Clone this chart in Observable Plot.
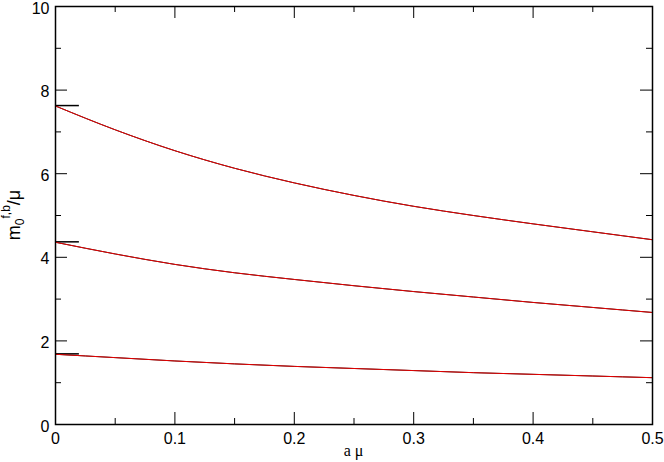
<!DOCTYPE html>
<html><head><meta charset="utf-8">
<script src="https://cdn.jsdelivr.net/npm/d3@7"></script>
<script src="https://cdn.jsdelivr.net/npm/@observablehq/plot@0.6"></script>
<style>
html,body{margin:0;padding:0;background:#fff}
#wrap{position:relative;width:664px;height:462px}
#wrap svg{display:block}
.lbl{position:absolute;white-space:nowrap;color:#000;line-height:1}
#ylab{left:25px;top:215px;font:18px 'Liberation Sans',Arial,sans-serif;transform-origin:0 0;transform:rotate(-90deg) translate(-50%,-100%)}
#ylab .sub{font-size:12px;position:relative;top:4px}
#ylab .sup{font-size:12px;position:relative;top:-10px}
#xlab{left:353.5px;top:442px;font:16px 'Liberation Serif','Times New Roman',serif;transform:translate(-50%,0)}
</style>
</head><body>
<div id="wrap">
  <div id="chart"></div>
  <div id="ylab" class="lbl">m<span class="sub">0</span><span class="sup">f,b</span>/μ</div>
  <div id="xlab" class="lbl">a μ</div>
</div>
<script>
// data
const aMu = [0, 0.05, 0.10, 0.15, 0.20, 0.25, 0.30, 0.35, 0.40, 0.45, 0.50];
const level1 = [1.68, 1.60, 1.52, 1.45, 1.39, 1.34, 1.29, 1.24, 1.20, 1.16, 1.12];
const level2 = [4.36, 4.08, 3.83, 3.63, 3.47, 3.32, 3.18, 3.05, 2.92, 2.80, 2.68];
const level3 = [7.62, 7.05, 6.55, 6.13, 5.78, 5.48, 5.22, 5.00, 4.80, 4.61, 4.42];
const limitValues = [1.69, 4.37, 7.63];
const limitFrom = [0, 0, 0];
const limitTo = [0.02, 0.02, 0.02];
const xMajorTicks = [0, 0.1, 0.2, 0.3, 0.4, 0.5];
const xMinorTicks = [0.05, 0.15, 0.25, 0.35, 0.45];
const yMajorTicks = [0, 2, 4, 6, 8, 10];
const yMinorTicks = [1, 3, 5, 7, 9];

const levels = [level1, level2, level3];
const rows = levels.flatMap((vals, k) => vals.map((v, i) => ({a: aMu[i], m: v, level: k})));
const limits = limitValues.map((v, i) => ({v, x1: limitFrom[i], x2: limitTo[i]}));

const W = 664, H = 462, ML = 55, MR = 12, MT = 6, MB = 38;
const plotW = W - ML - MR, plotH = H - MT - MB;
const MAJOR = 12, MINOR = 6;

// inward ticks on all four sides, drawn as short rules inset from the frame
const xTicks = (ticks, len) => [
  Plot.ruleX(ticks, {x: d => d, insetTop: plotH - len, stroke: "black", strokeWidth: 1, ariaLabel: "x mark bottom"}),
  Plot.ruleX(ticks, {x: d => d, insetBottom: plotH - len, stroke: "black", strokeWidth: 1, ariaLabel: "x mark top"})
];
const yTicks = (ticks, len) => [
  Plot.ruleY(ticks, {y: d => d, insetRight: plotW - len, stroke: "black", strokeWidth: 1, ariaLabel: "y mark left"}),
  Plot.ruleY(ticks, {y: d => d, insetLeft: plotW - len, stroke: "black", strokeWidth: 1, ariaLabel: "y mark right"})
];

const chart = Plot.plot({
  width: W, height: H,
  marginLeft: ML, marginRight: MR, marginTop: MT, marginBottom: MB,
  x: {domain: [0, 0.5]},
  y: {domain: [0, 10]},
  style: {fontFamily: "'Liberation Sans', Arial, sans-serif", fontSize: "16px", background: "white", color: "black"},
  marks: [
    Plot.axisX(xMajorTicks, {anchor: "bottom", tickSize: 0, tickPadding: 8, fontSize: 16, label: null, tickFormat: d => String(d)}),
    Plot.axisY(yMajorTicks, {anchor: "left", tickSize: 0, tickPadding: 6, dy: 2, fontSize: 16, label: null, tickFormat: d => String(d)}),
    ...xTicks(xMajorTicks, MAJOR),
    ...xTicks(xMinorTicks, MINOR),
    ...yTicks(yMajorTicks, MAJOR),
    ...yTicks(yMinorTicks, MINOR),
    Plot.ruleY(limits, {y: "v", x1: "x1", x2: "x2", stroke: "black", strokeWidth: 1.5}),
    Plot.line(rows, {x: "a", y: "m", z: "level", stroke: "black", strokeWidth: 1, curve: "monotone-x"}),
    Plot.line(rows, {x: "a", y: "m", z: "level", stroke: "#ff0000", strokeWidth: 0.9, curve: "monotone-x"}),
    Plot.frame({stroke: "black", strokeWidth: 1.5})
  ]
});
document.getElementById("chart").appendChild(chart);
</script>
</body></html>
